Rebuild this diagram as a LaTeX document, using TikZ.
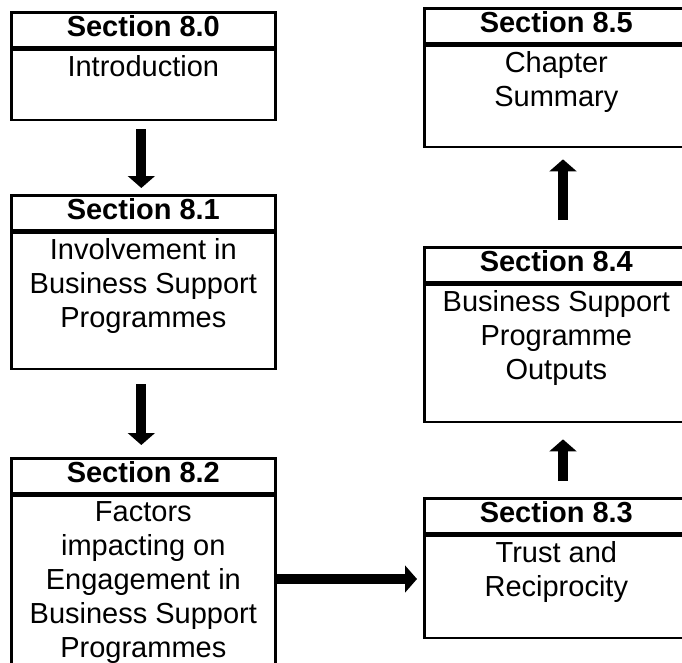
\documentclass[tikz,border=0pt]{standalone}
\usepackage{fontspec}
\setmainfont{Liberation Sans}
\usetikzlibrary{arrows.meta,positioning}

\begin{document}
\begin{tikzpicture}[
    x=0.75pt, y=-0.75pt,
    node distance=0pt,
    head/.style={draw, line width=2pt, minimum width=198pt, minimum height=26.25pt, inner sep=0pt, anchor=north west, font=\fontsize{21.75}{25.5}\selectfont\bfseries, text height=16pt, text depth=5.5pt},
    body/.style={draw, line width=2pt, minimum width=198pt, inner sep=0pt},
    txt/.style={align=center, inner sep=0pt, font=\fontsize{21.75}{25.5}\selectfont},
    fat/.style={line width=7.5pt, -{Triangle[width=20pt,length=9pt]}}
]
\useasboundingbox (0,0) rectangle (682,662);
\clip (0,0) rectangle (682,662);
% left column
\node[head] (s80) at (10,11) {Section 8.0};
\node[body, minimum height=52.5pt, below=of s80] (s80b) {};
\node[txt, below=5pt of s80b.north] (t80) {Introduction};
\node[head] (s81) at (10,194) {Section 8.1};
\node[body, minimum height=102pt, below=of s81] (s81b) {};
\node[txt, below=5pt of s81b.north] (t81) {Involvement in\\Business Support\\Programmes};
\node[head] (s82) at (10,457) {Section 8.2};
\node[body, minimum height=130.5pt, below=of s82] (s82b) {};
\node[txt, below=5pt of s82b.north] (t82) {Factors\\impacting on\\Engagement in\\Business Support\\Programmes};
% right column
\node[head] (s85) at (423,7) {Section 8.5};
\node[body, minimum height=75.75pt, below=of s85] (s85b) {};
\node[txt, below=5pt of s85b.north] (t85) {Chapter\\Summary};
\node[head] (s84) at (423,246) {Section 8.4};
\node[body, minimum height=102.75pt, below=of s84] (s84b) {};
\node[txt, below=5pt of s84b.north] (t84) {Business Support\\Programme\\Outputs};
\node[head] (s83) at (423,497) {Section 8.3};
\node[body, minimum height=76.5pt, below=of s83] (s83b) {};
\node[txt, below=5pt of s83b.north] (t83) {Trust and\\Reciprocity};
% arrows
\draw[fat] ([xshift=-1.5pt,yshift=-6pt]s80b.south) -- ([xshift=-1.5pt,yshift=4.5pt]s81.north);
\draw[fat] ([xshift=-1.5pt,yshift=-10.5pt]s81b.south) -- ([xshift=-1.5pt,yshift=9pt]s82.north);
\coordinate (h82) at ([yshift=3pt]s82b.east);
\draw[fat, shorten >=4.5pt] (h82) -- (h82 -| s83b.west);
\draw[fat] ([xshift=5pt,yshift=12pt]s83.north) -- ([xshift=5pt,yshift=-12pt]s84b.south);
\draw[fat] ([xshift=5pt,yshift=19.5pt]s84.north) -- ([xshift=5pt,yshift=-8.25pt]s85b.south);
\end{tikzpicture}
\end{document}
